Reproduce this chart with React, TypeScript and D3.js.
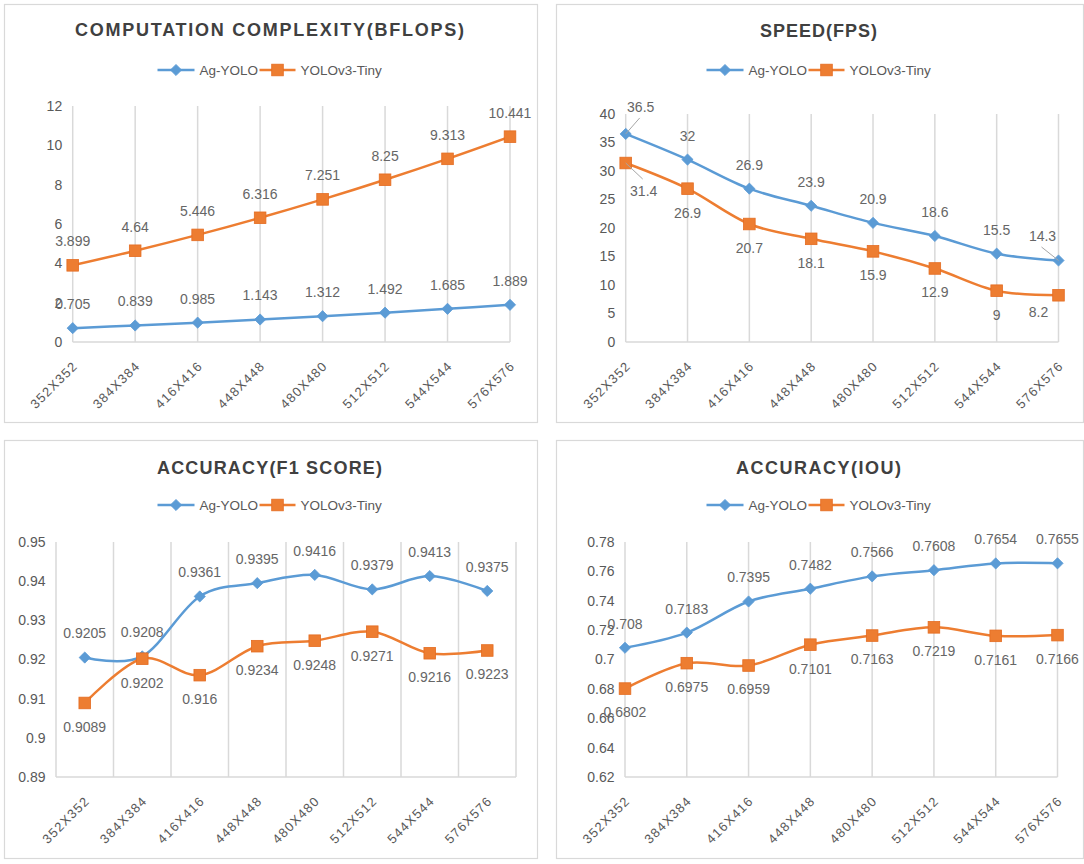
import React from 'react';
import * as d3 from 'd3';

const categories = ['352X352', '384X384', '416X416', '448X448', '480X480', '512X512', '544X544', '576X576'];
const seriesNames = ['Ag-YOLO', 'YOLOv3-Tiny'];

const bflopsAg = [0.705, 0.839, 0.985, 1.143, 1.312, 1.492, 1.685, 1.889];
const bflopsTiny = [3.899, 4.64, 5.446, 6.316, 7.251, 8.25, 9.313, 10.441];
const fpsAg = [36.5, 32, 26.9, 23.9, 20.9, 18.6, 15.5, 14.3];
const fpsTiny = [31.4, 26.9, 20.7, 18.1, 15.9, 12.9, 9, 8.2];
const f1Ag = [0.9205, 0.9208, 0.9361, 0.9395, 0.9416, 0.9379, 0.9413, 0.9375];
const f1Tiny = [0.9089, 0.9202, 0.916, 0.9234, 0.9248, 0.9271, 0.9216, 0.9223];
const iouAg = [0.708, 0.7183, 0.7395, 0.7482, 0.7566, 0.7608, 0.7654, 0.7655];
const iouTiny = [0.6802, 0.6975, 0.6959, 0.7101, 0.7163, 0.7219, 0.7161, 0.7166];

const bflopsTicks = [0, 2, 4, 6, 8, 10, 12];
const fpsTicks = [0, 5, 10, 15, 20, 25, 30, 35, 40];
const f1Ticks = [0.89, 0.9, 0.91, 0.92, 0.93, 0.94, 0.95];
const iouTicks = [0.62, 0.64, 0.66, 0.68, 0.7, 0.72, 0.74, 0.76, 0.78];

const titles = ['COMPUTATION COMPLEXITY(BFLOPS)', 'SPEED(FPS)', 'ACCURACY(F1 SCORE)', 'ACCURACY(IOU)'];

const BLUE = '#5B9BD5';
const ORANGE = '#ED7D31';
const GRID = '#D9D9D9';
const TXT = '#595959';
const FONT = '"Liberation Sans", Arial, sans-serif';

type Nudge = { s: number; i: number; dx: number; dy: number; leader: boolean };

const panels = [
  {
    title: titles[0], titleLen: 389, box: { x: 4, y: 4, w: 533, h: 418 },
    plot: { l: 72.7, r: 510, t: 106, b: 342 }, band: false, titleY: 29, legendY: 70,
    series: [bflopsAg, bflopsTiny], ticks: bflopsTicks, below: [false, false], nudges: [] as Nudge[],
  },
  {
    title: titles[1], titleLen: 117, box: { x: 556, y: 4, w: 527, h: 418 },
    plot: { l: 625.7, r: 1058.5, t: 114, b: 342 }, band: false, titleY: 30, legendY: 70,
    series: [fpsAg, fpsTiny], ticks: fpsTicks, below: [false, true],
    nudges: [
      { s: 0, i: 0, dx: 15, dy: -27, leader: true },
      { s: 1, i: 0, dx: 18, dy: 28, leader: true },
      { s: 0, i: 7, dx: -16, dy: -24.5, leader: true },
      { s: 1, i: 7, dx: -20, dy: 17, leader: false },
    ] as Nudge[],
  },
  {
    title: titles[2], titleLen: 225, box: { x: 4, y: 440, w: 533, h: 418 },
    plot: { l: 56, r: 516, t: 542, b: 777 }, band: true, titleY: 467, legendY: 505,
    series: [f1Ag, f1Tiny], ticks: f1Ticks, below: [false, true], nudges: [] as Nudge[],
  },
  {
    title: titles[3], titleLen: 165, box: { x: 556, y: 440, w: 527, h: 418 },
    plot: { l: 625, r: 1057.5, t: 542, b: 777 }, band: false, titleY: 467, legendY: 505,
    series: [iouAg, iouTiny], ticks: iouTicks, below: [false, true], nudges: [] as Nudge[],
  },
];

const colors = [BLUE, ORANGE];

function Marker({ x, y, s }: { x: number; y: number; s: number }) {
  if (s === 0) {
    const r = 5.6;
    return <path d={`M${x},${y - r}L${x + r},${y}L${x},${y + r}L${x - r},${y}Z`} fill={BLUE} stroke={BLUE} strokeWidth={0.8} />;
  }
  const h = 5.8;
  return <rect x={x - h} y={y - h} width={2 * h} height={2 * h} fill={ORANGE} stroke="#E46C21" strokeWidth={0.8} />;
}

function fmt(v: number) {
  return String(+v.toFixed(4));
}

function Panel({ p }: { p: typeof panels[number] }) {
  const { plot, box } = p;
  const y = d3.scaleLinear().domain([p.ticks[0], p.ticks[p.ticks.length - 1]]).range([plot.b, plot.t]);
  let xPos: (i: number) => number;
  let gridXs: number[];
  if (p.band) {
    const xb = d3.scaleBand<string>().domain(categories).range([plot.l, plot.r]).padding(0);
    xPos = (i) => (xb(categories[i]) as number) + xb.bandwidth() / 2;
    gridXs = categories.map((c) => xb(c) as number).concat([plot.r]);
  } else {
    const xp = d3.scalePoint<string>().domain(categories).range([plot.l, plot.r]);
    xPos = (i) => xp(categories[i]) as number;
    gridXs = categories.map((c) => xp(c) as number);
  }
  const line = d3
    .line<number>()
    .x((_, i) => xPos(i))
    .y((d) => y(d))
    .curve(d3.curveCardinal.tension(0));

  const cx = box.x + box.w / 2;
  const lx = cx - 113;
  return (
    <g>
      <rect x={box.x + 0.5} y={box.y + 0.5} width={box.w} height={box.h} fill="#fff" stroke={GRID} strokeWidth={1.2} />
      <text
        x={cx - 1}
        y={p.titleY + 6.5}
        textAnchor="middle"
        fontFamily={FONT}
        fontWeight="bold"
        fontSize={18}
        fill="#404040"
        textLength={p.titleLen}
        lengthAdjust="spacing"
      >
        {p.title}
      </text>
      {/* legend */}
      <g fontFamily={FONT} fontSize={13.5} fill={TXT}>
        <line x1={lx} x2={lx + 37} y1={p.legendY} y2={p.legendY} stroke={BLUE} strokeWidth={2.5} />
        <Marker x={lx + 18.5} y={p.legendY} s={0} />
        <text x={lx + 42} y={p.legendY} dy="0.36em">{seriesNames[0]}</text>
        <line x1={lx + 102} x2={lx + 138} y1={p.legendY} y2={p.legendY} stroke={ORANGE} strokeWidth={2.5} />
        <Marker x={lx + 120} y={p.legendY} s={1} />
        <text x={lx + 143} y={p.legendY} dy="0.36em">{seriesNames[1]}</text>
      </g>
      {/* grid */}
      {gridXs.map((gx, i) => (
        <line key={i} x1={gx} x2={gx} y1={plot.t} y2={plot.b} stroke={GRID} strokeWidth={1.5} />
      ))}
      <line x1={plot.l} x2={plot.r} y1={plot.b} y2={plot.b} stroke={GRID} strokeWidth={1.5} />
      {/* y ticks */}
      {p.ticks.map((t) => (
        <text key={t} x={plot.l - 10.5} y={y(t)} dy="0.35em" textAnchor="end" fontFamily={FONT} fontSize={14} fill={TXT}>
          {fmt(t)}
        </text>
      ))}
      {/* x ticks */}
      {categories.map((c, i) => {
        const ax = xPos(i) + 2.5;
        const ay = plot.b + 21.5;
        return (
          <text
            key={c}
            x={ax}
            y={ay}
            dy="0.35em"
            textAnchor="end"
            transform={`rotate(-45 ${ax} ${ay})`}
            fontFamily={FONT}
            fontSize={13}
            letterSpacing={1.2}
            fill={TXT}
          >
            {c}
          </text>
        );
      })}
      {/* lines */}
      {p.series.map((s, si) => (
        <path key={si} d={line(s) as string} fill="none" stroke={colors[si]} strokeWidth={2.5} />
      ))}
      {p.series.map((s, si) =>
        s.map((v, i) => <Marker key={`${si}-${i}`} x={xPos(i)} y={y(v)} s={si} />)
      )}
      {/* data labels */}
      {p.series.map((s, si) =>
        s.map((v, i) => {
          const px = xPos(i);
          const py = y(v);
          const n = p.nudges.find((q) => q.s === si && q.i === i);
          const dx = n ? n.dx : 0;
          const dy = n ? n.dy : p.below[si] ? 24 : -24;
          const lxp = px + dx;
          const lyp = py + dy;
          return (
            <g key={`l${si}-${i}`}>
              {n && n.leader ? (
                <line x1={px} y1={py} x2={lxp - 1} y2={lyp + (dy < 0 ? 11 : -12)} stroke="#A6A6A6" strokeWidth={1} />
              ) : null}
              <text x={lxp} y={lyp} dy="0.35em" textAnchor="middle" fontFamily={FONT} fontSize={14} fill="#666666">
                {fmt(v)}
              </text>
            </g>
          );
        })
      )}
    </g>
  );
}

export default function App() {
  return (
    <svg width={1084} height={864} style={{ position: 'absolute', left: 0, top: 0 }}>
      <rect x={0} y={0} width={1084} height={864} fill="#fff" />
      {panels.map((p, i) => (
        <Panel key={i} p={p} />
      ))}
    </svg>
  );
}
